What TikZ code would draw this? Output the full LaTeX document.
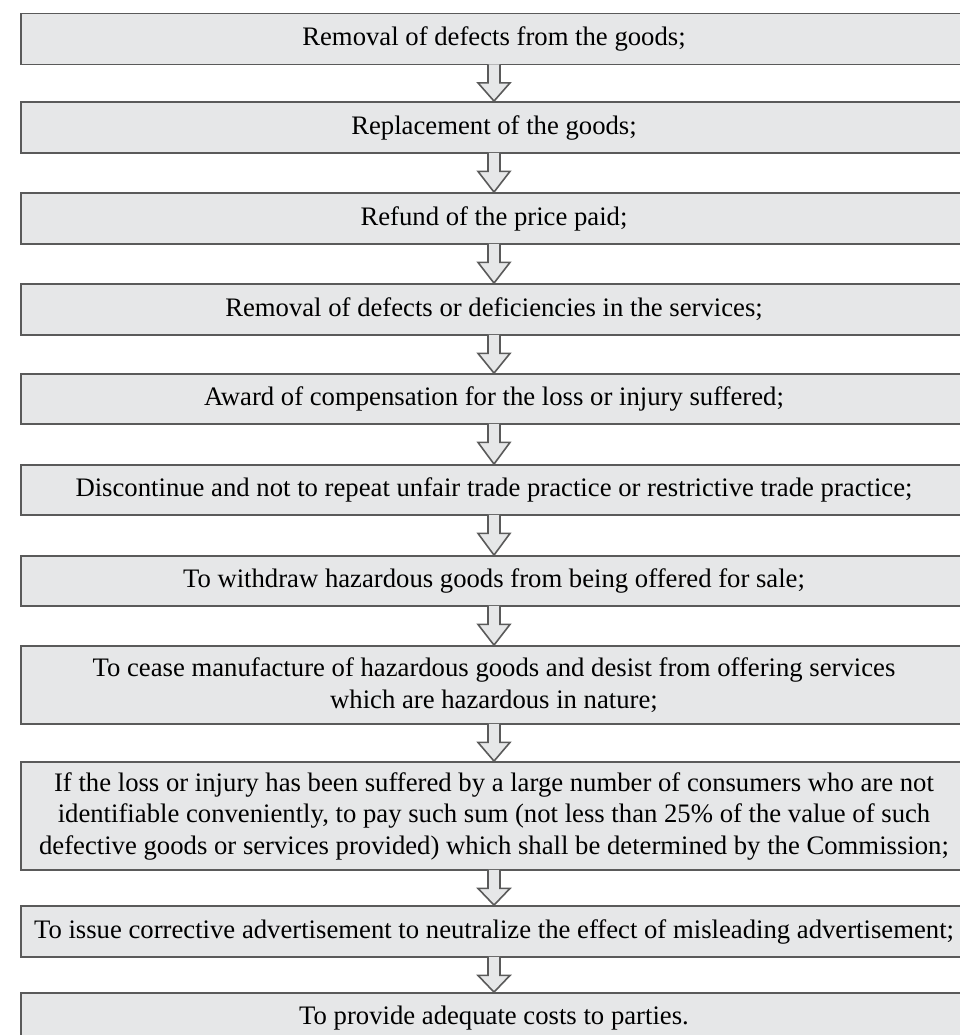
\documentclass[tikz,border=0pt]{standalone}
\usepackage{fontspec}
\setmainfont{Liberation Serif}
\usetikzlibrary{calc}
\definecolor{boxfill}{HTML}{E6E7E8}
\definecolor{boxline}{HTML}{5A5A5A}
\tikzset{
  box/.style={draw=boxline, fill=boxfill, line width=1.8pt, minimum width=946pt,
    inner sep=0pt, align=center, font=\fontsize{26.7}{31.5}\selectfont},
  flowarrow/.style={draw=boxline, fill=boxfill, line width=1.6pt, line join=miter}
}
% hollow block arrow from the bottom of one box to the top of the next
\newcommand\blockarrow[2]{%
  \path[flowarrow] let \p1=(#1.south), \p2=(#2.north) in
    (\x1-6pt,\y1+1pt) -- (\x1-6pt,\y1-17.5pt) -- (\x1-16pt,\y1-17.5pt) --
    (\x1,\y2) -- (\x1+16pt,\y1-17.5pt) -- (\x1+6pt,\y1-17.5pt) --
    (\x1+6pt,\y1+1pt);}
\begin{document}
\begin{tikzpicture}[x=1pt,y=-1pt]
\useasboundingbox (0,0) rectangle (960,1035);
\begin{scope}
\clip (0,0) rectangle (960,1035);
\node[box, minimum height=51pt] (b1) at (494,39) {Removal of defects from the goods;};
\node[box, minimum height=51pt] (b2) at (494,127.5) {Replacement of the goods;};
\node[box, minimum height=51pt] (b3) at (494,218.5) {Refund of the price paid;};
\node[box, minimum height=51pt] (b4) at (494,309.5) {Removal of defects or deficiencies in the services;};
\node[box, minimum height=50pt] (b5) at (494,399) {Award of compensation for the loss or injury suffered;};
\node[box, minimum height=50pt] (b6) at (494,490) {Discontinue and not to repeat unfair trade practice or restrictive trade practice;};
\node[box, minimum height=50pt] (b7) at (494,581) {To withdraw hazardous goods from being offered for sale;};
\node[box, minimum height=78pt] (b8) at (494,685) {To cease manufacture of hazardous goods and desist from offering services\\ which are hazardous in nature;};
\node[box, minimum height=108pt] (b9) at (494,816) {If the loss or injury has been suffered by a large number of consumers who are not\\ identifiable conveniently, to pay such sum (not less than 25\% of the value of such\\ defective goods or services provided) which shall be determined by the Commission;};
\node[box, minimum height=51pt] (b10) at (494,931.5) {To issue corrective advertisement to neutralize the effect of misleading advertisement;};
\node[box, minimum height=51pt] (b11) at (494,1018.5) {To provide adequate costs to parties.};
\foreach \a/\b in {b1/b2,b2/b3,b3/b4,b4/b5,b5/b6,b6/b7,b7/b8,b8/b9,b9/b10,b10/b11}
  {\blockarrow{\a}{\b}}
\end{scope}
\end{tikzpicture}
\end{document}
